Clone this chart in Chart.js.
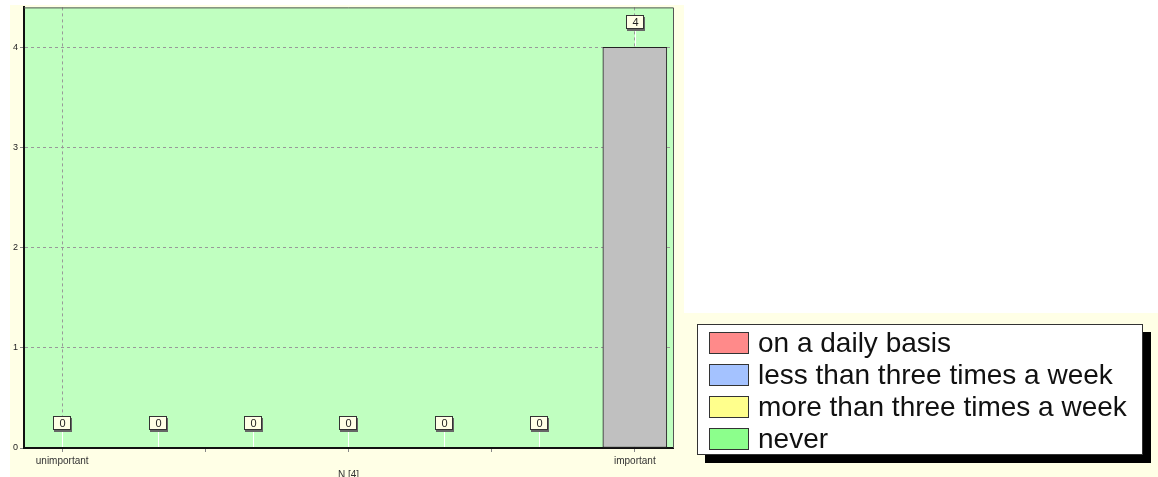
<!DOCTYPE html>
<html>
<head>
<meta charset="utf-8">
<script src="https://cdn.jsdelivr.net/npm/chart.js@4/dist/chart.umd.min.js"></script>
<style>
  body { margin: 0; background: #fff; }
  #wrap { position: relative; width: 1158px; height: 477px; overflow: hidden; }
  #freqChart { position: absolute; left: 0; top: 0; }
  #legend {
    position: absolute; left: 697px; top: 324px; width: 444px; height: 129px;
    border: 1px solid #333; background: #fff; box-shadow: 8px 8px 0 #000;
    font-family: "Liberation Sans", Arial, sans-serif; font-size: 28px; color: #111;
  }
  #legend .row { position: absolute; left: 11px; height: 32px; line-height: 22px; white-space: nowrap; }
  #legend .sw { display: inline-block; width: 38px; height: 20px; border: 1px solid #333; vertical-align: top; margin-right: 9px; }
</style>
</head>
<body>
<div id="wrap">
  <canvas id="freqChart" width="1158" height="477"></canvas>
  <div id="legend"></div>
</div>
<script>
/* answers per category */
const categories = ['unimportant', '', '', '', '', '', 'important'];
const counts = [0, 0, 0, 0, 0, 0, 4];
const yTicks = [0, 1, 2, 3, 4];
const xTickPos = [0, 1.5, 3, 4.5, 6];
const axisTitle = 'N [4]';

/* legend entries */
const legendNames = ['on a daily basis', 'less than three times a week', 'more than three times a week', 'never'];
const legendColors = ['#FF8A8A', '#A4C2FF', '#FFFF8C', '#8CFF8C'];

// cream panels + green plot area
const backdrop = {
  id: 'backdrop',
  beforeDraw(chart) {
    const c = chart.ctx, a = chart.chartArea;
    c.save();
    c.fillStyle = '#FFFFE6';
    c.fillRect(10, 5, 674, 472);
    c.fillRect(683, 313, 475, 164);
    c.fillStyle = '#C0FFC0';
    c.fillRect(a.left, a.top, a.right - a.left, a.bottom - a.top);
    c.restore();
  },
  afterDraw(chart) {
    const c = chart.ctx, a = chart.chartArea;
    c.save();
    c.strokeStyle = '#555';
    c.lineWidth = 1;
    c.beginPath();
    c.moveTo(a.left, a.top + 0.5);
    c.lineTo(a.right + 0.5, a.top + 0.5);
    c.lineTo(a.right + 0.5, a.bottom);
    c.stroke();
    c.restore();
  }
};

// value boxes above bars
const valueBoxes = {
  id: 'valueBoxes',
  afterDatasetsDraw(chart) {
    const c = chart.ctx;
    const meta = chart.getDatasetMeta(0);
    c.save();
    c.font = '11px "Liberation Sans", Arial, sans-serif';
    c.textAlign = 'center';
    c.textBaseline = 'middle';
    meta.data.forEach((bar, i) => {
      const x = Math.round(bar.x), y = Math.round(bar.y);
      const cy = y - 25;
      c.strokeStyle = '#fff';
      c.lineWidth = 1;
      c.beginPath();
      c.moveTo(x + 0.5, cy + 7);
      c.lineTo(x + 0.5, y - 1);
      c.stroke();
      c.fillStyle = '#666';
      c.fillRect(x - 8, cy - 5, 18, 14);
      c.fillStyle = '#FFFFE6';
      c.fillRect(x - 9, cy - 7, 18, 14);
      c.strokeStyle = '#333';
      c.strokeRect(x - 8.5, cy - 6.5, 17, 13);
      c.fillStyle = '#222';
      c.fillText(String(counts[i]), x + 0.5, cy + 0.5);
    });
    c.restore();
  }
};

const config = {
  type: 'bar',
  data: {
    datasets: [{
      data: counts.map((v, i) => ({ x: i, y: v })),
      backgroundColor: '#C0C0C0',
      borderColor: '#222',
      borderWidth: 1,
      borderSkipped: false,
      barThickness: 64
    }]
  },
  options: {
    responsive: false,
    animation: false,
    layout: { padding: { left: 10, top: 6, right: 485, bottom: 0 } },
    plugins: { legend: { display: false }, tooltip: { enabled: false } },
    scales: {
      x: {
        type: 'linear',
        min: -0.4,
        max: 6.4,
        offset: false,
        afterBuildTicks: s => { s.ticks = xTickPos.map(v => ({ value: v })); },
        afterFit: s => { s.height = 29; },
        grid: {
          offset: false,
          color: ctx => (ctx.tick && (ctx.tick.value === 0 || ctx.tick.value === 6)) ? '#999' : 'rgba(0,0,0,0)',
          tickColor: '#888',
          tickLength: 4
        },
        border: { color: '#111', width: 2, dash: [3, 3] },
        ticks: {
          autoSkip: false,
          maxRotation: 0,
          padding: 3,
          color: '#333',
          font: { family: '"Liberation Sans", Arial, sans-serif', size: 10 },
          callback: v => Number.isInteger(v) ? categories[v] : ''
        },
        title: {
          display: true,
          text: axisTitle,
          color: '#333',
          padding: { top: 0, bottom: -4 },
          font: { family: '"Liberation Sans", Arial, sans-serif', size: 10, lineHeight: 1.2 }
        }
      },
      y: {
        min: 0,
        max: 4.4,
        afterBuildTicks: s => { s.ticks = yTicks.map(v => ({ value: v })); },
        afterFit: s => { s.width = 14; },
        grid: {
          color: ctx => (ctx.tick && ctx.tick.value === 0) ? 'rgba(0,0,0,0)' : '#999',
          tickColor: '#888',
          tickLength: 4
        },
        border: { color: '#111', width: 2, dash: [3, 3] },
        ticks: {
          padding: 2,
          color: '#222',
          font: { family: '"Liberation Sans", Arial, sans-serif', size: 9 }
        }
      }
    }
  },
  plugins: [backdrop, valueBoxes]
};

var myChart = new Chart(document.getElementById('freqChart'), config);

// legend rows
const legendBox = document.getElementById('legend');
legendNames.forEach((name, i) => {
  const row = document.createElement('div');
  row.className = 'row';
  row.style.top = (7 + i * 32) + 'px';
  row.innerHTML = '<span class="sw" style="background:' + legendColors[i] + '"></span>' + name;
  legendBox.appendChild(row);
});
</script>
</body>
</html>
